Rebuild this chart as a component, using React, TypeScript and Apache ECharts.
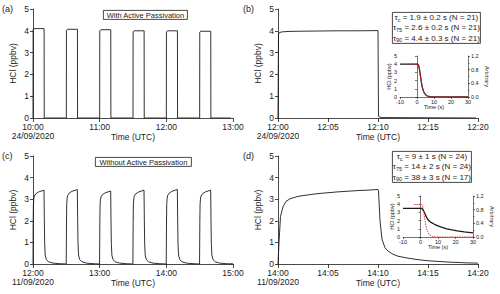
import React, { useEffect, useRef } from "react";
import * as echarts from "echarts";

// ---------- data ----------
// Panel (a): with active passivation, minutes after 10:00 (24/09/2020)
const aPulseStarts = [0, 30, 60, 90, 120, 150];
const aPulseTops = [4.1, 4.07, 4.05, 4.0, 4.0, 3.98];
const aPulseLength = 10;
const aEnd = 178;

// Panel (b): single step, minutes after 12:00 (24/09/2020)
const bTime = [0, 0.05, 0.15, 0.4, 1, 2, 4, 6, 8, 10, 10.05, 10.3, 19.8];
const bValue = [0, 3.85, 3.92, 3.95, 3.97, 3.98, 3.99, 4.0, 4.0, 4.01, 0.08, 0.02, 0.0];

// Panel (c): without active passivation, minutes after 12:00 (11/09/2020)
const cPulseStarts = [0, 30, 60, 90, 120, 150];
const cPulseTops = [3.42, 3.45, 3.38, 3.42, 3.45, 3.42];
// typical pulse profile: [minutes after start, fraction of top]
const cPulseProfile: [number, number][] = [
  [0, 0], [0.15, 0.55], [0.35, 0.8], [0.7, 0.88], [1.2, 0.92], [2.5, 0.95],
  [5, 0.975], [9.9, 1.0], [10.2, 0.6], [10.5, 0.28], [11, 0.12], [12, 0.06],
  [14, 0.03], [18, 0.012], [24, 0.004], [29.9, 0.0],
];

// Panel (d): single step, minutes after 14:00 (11/09/2020)
const dTime = [0, 0.1, 0.25, 0.5, 0.8, 1.2, 2, 3, 4, 5, 6, 7, 8, 9, 10, 10.05, 10.2, 10.4, 10.7, 11, 11.5, 12, 13, 14, 15, 16, 17, 18, 19, 20];
const dValue = [0, 1.0, 2.2, 2.65, 2.9, 3.02, 3.13, 3.2, 3.26, 3.3, 3.34, 3.37, 3.4, 3.42, 3.45, 3.38, 2.0, 1.15, 0.75, 0.6, 0.45, 0.36, 0.27, 0.2, 0.15, 0.12, 0.09, 0.07, 0.05, 0.04];

// Inset (b): seconds, HCl (ppbv) and fit (arbitrary)
const ibTime = [-10, 0.5, 1, 1.5, 2, 2.5, 3, 3.5, 4, 5, 6, 7, 8, 10, 30];
const ibHcl = [4.0, 4.0, 3.8, 3.3, 2.6, 1.9, 1.3, 0.9, 0.6, 0.28, 0.13, 0.06, 0.03, 0.01, 0.0];
const ibFitTime = [-4, 0.5, 1, 1.5, 2, 2.5, 3, 3.5, 4, 5, 6, 7, 8, 10, 30];
const ibFit = [0.96, 0.96, 0.91, 0.79, 0.62, 0.46, 0.31, 0.22, 0.14, 0.07, 0.03, 0.015, 0.007, 0.002, 0.0];

// Inset (d)
const idTime = [-10, 0.5, 1, 2, 3, 4, 5, 6, 8, 10, 12, 15, 18, 21, 25, 30];
const idHcl = [3.5, 3.5, 3.45, 3.1, 2.6, 2.2, 1.95, 1.78, 1.55, 1.35, 1.2, 1.0, 0.87, 0.76, 0.62, 0.5];
const idFitTime = [-3.7, 1, 1.5, 2, 2.5, 3, 3.5, 4, 5, 6, 7, 9, 30];
const idFit = [0.95, 0.95, 0.85, 0.68, 0.5, 0.35, 0.24, 0.16, 0.07, 0.03, 0.01, 0.0, 0.0];

// Text
const tauB = [
  ["c", "1.9 ± 0.2 s (N = 21)"],
  ["75", "2.6 ± 0.2 s (N = 21)"],
  ["90", "4.4 ± 0.3 s (N = 21)"],
];
const tauD = [
  ["c", "9 ± 1 s (N = 24)"],
  ["75", "14 ± 2 s (N = 24)"],
  ["90", "38 ± 3 s (N = 17)"],
];

const FONT = "'Liberation Sans', Arial, sans-serif";
const INK = "#1a1a1a";

function buildA(): [number, number][] {
  const out: [number, number][] = [];
  aPulseStarts.forEach((s, i) => {
    const t = aPulseTops[i];
    out.push([s, 0], [s + 0.1, t - 0.05], [s + 1, t], [s + aPulseLength, t], [s + aPulseLength + 0.1, 0]);
  });
  out.push([aEnd, 0]);
  return out;
}

function buildC(): [number, number][] {
  const out: [number, number][] = [];
  cPulseStarts.forEach((s, i) => {
    const top = cPulseTops[i];
    cPulseProfile.forEach(([dt, f]) => out.push([s + dt, +(f * top).toFixed(3)]));
  });
  out.push([178, 0]);
  return out;
}

const zip = (a: number[], b: number[]) => a.map((x, i) => [x, b[i]]);

function clock(startH: number, date: string) {
  return (v: number) => {
    const tot = startH * 60 + v;
    const h = Math.floor(tot / 60);
    const m = Math.round(tot % 60);
    const s = `${h}:${m < 10 ? "0" + m : m}`;
    return v === 0 ? `${s}\n${date}` : s;
  };
}

function mainX(grid: number, max: number, interval: number, startH: number, date: string) {
  return {
    type: "value", gridIndex: grid, min: 0, max, interval,
    name: "Time (UTC)", nameLocation: "middle", nameGap: 14, nameMoveOverlap: false,
    nameTextStyle: { fontSize: 8.5, color: INK, fontFamily: FONT },
    axisLine: { show: true, onZero: false, lineStyle: { color: INK, width: 0.8 } },
    axisTick: { show: true, inside: false, length: 4, lineStyle: { color: INK, width: 0.8 } },
    axisLabel: { formatter: clock(startH, date), fontSize: 8.5, lineHeight: 8.5, margin: 5, color: INK, fontFamily: FONT, hideOverlap: false },
    splitLine: { show: false },
  };
}

function mainY(grid: number) {
  return {
    type: "value", gridIndex: grid, min: 0, max: 5, interval: 1,
    name: "HCl (ppbv)", nameLocation: "middle", nameGap: 16, nameMoveOverlap: false,
    nameTextStyle: { fontSize: 8.5, color: INK, fontFamily: FONT },
    axisLine: { show: true, lineStyle: { color: INK, width: 0.8 } },
    axisTick: { show: true, inside: false, length: 3, lineStyle: { color: INK, width: 0.8 } },
    axisLabel: { fontSize: 8.5, margin: 4, color: INK, fontFamily: FONT },
    splitLine: { show: false },
  };
}

const smallFont = 5.5;
function insetX(grid: number) {
  return {
    type: "value", gridIndex: grid, min: -10, max: 30, interval: 10,
    name: "Time (s)", nameLocation: "middle", nameGap: 7, nameMoveOverlap: false,
    nameTextStyle: { fontSize: smallFont, color: INK, fontFamily: FONT },
    axisLine: { show: true, onZero: false, lineStyle: { color: INK, width: 0.6 } },
    axisTick: { show: true, inside: false, length: 2, lineStyle: { color: INK, width: 0.6 } },
    axisLabel: { fontSize: smallFont, margin: 2, color: INK, fontFamily: FONT },
    splitLine: { show: false },
  };
}
function insetYLeft(grid: number) {
  return {
    type: "value", gridIndex: grid, min: 0, max: 5, interval: 1, position: "left",
    name: "HCl (ppbv)", nameLocation: "middle", nameGap: 8, nameMoveOverlap: false,
    nameTextStyle: { fontSize: smallFont, color: INK, fontFamily: FONT },
    axisLine: { show: true, lineStyle: { color: INK, width: 0.6 } },
    axisTick: { show: true, inside: false, length: 2, lineStyle: { color: INK, width: 0.6 } },
    axisLabel: { fontSize: smallFont, margin: 3, color: INK, fontFamily: FONT },
    splitLine: { show: false },
  };
}
function insetYRight(grid: number) {
  return {
    type: "value", gridIndex: grid, min: 0, max: 1.2, interval: 0.4, position: "right",
    name: "Arbitrary", nameLocation: "middle", nameGap: 16, nameRotate: -90, nameMoveOverlap: false,
    nameTextStyle: { fontSize: smallFont, color: INK, fontFamily: FONT },
    axisLine: { show: true, lineStyle: { color: INK, width: 0.6 } },
    axisTick: { show: true, inside: false, length: 2, lineStyle: { color: INK, width: 0.6 } },
    minorTick: { show: true, splitNumber: 2, length: 1.5, lineStyle: { color: INK, width: 0.5 } },
    axisLabel: { fontSize: smallFont, margin: 3, color: INK, fontFamily: FONT, formatter: (v: number) => v.toFixed(1) },
    splitLine: { show: false },
  };
}

function tauText(rows: string[][]) {
  return rows.map(([sub, rest]) => `{t|τ}{s|${sub}}{t| = ${rest}}`).join("\n");
}

function tauBox(x: number, y: number, w: number, h: number, rows: string[][]) {
  return {
    type: "group", left: x, top: y,
    children: [
      { type: "rect", shape: { x: 0, y: 0, width: w, height: h }, style: { fill: "#fff", stroke: INK, lineWidth: 0.8 } },
      {
        type: "text", x: w / 2, y: h / 2,
        style: {
          text: tauText(rows), align: "center", verticalAlign: "middle",
          textAlign: "center", textVerticalAlign: "middle",
          fill: INK, fontFamily: FONT, fontSize: 8,
          rich: {
            t: { fontSize: 8, lineHeight: 10.2, fontFamily: FONT, fill: INK, verticalAlign: "middle" },
            s: { fontSize: 5.5, lineHeight: 10.2, fontFamily: FONT, fill: INK, verticalAlign: "bottom", padding: [4, 0, 0, 0] },
          },
        },
      },
    ],
  };
}

function labelBox(x: number, y: number, w: number, h: number, text: string) {
  return {
    type: "group", left: x, top: y,
    children: [
      { type: "rect", shape: { x: 0, y: 0, width: w, height: h }, style: { fill: "#fff", stroke: INK, lineWidth: 0.8 } },
      {
        type: "text", x: w / 2, y: h / 2 + 0.5,
        style: { text, align: "center", verticalAlign: "middle", textAlign: "center", textVerticalAlign: "middle", fill: INK, fontFamily: FONT, fontSize: 7.5 },
      },
    ],
  };
}

function panelLabel(x: number, y: number, text: string) {
  return { type: "text", x, y, style: { text, fill: INK, fontFamily: FONT, fontSize: 9, verticalAlign: "middle", textVerticalAlign: "middle" } };
}

export default function App() {
  const ref = useRef<HTMLDivElement>(null);
  useEffect(() => {
    if (!ref.current) return;
    const chart = echarts.init(ref.current, undefined, { renderer: "svg" });
    const line = (x: number, y: number, data: any, color = INK, width = 0.9, type: any = "solid") => ({
      type: "line", xAxisIndex: x, yAxisIndex: y, data, showSymbol: false, symbol: "none",
      lineStyle: { color, width, type }, z: 3, silent: true,
    });
    chart.setOption({
      animation: false,
      textStyle: { fontFamily: FONT },
      grid: [
        { left: 33, top: 9, width: 200, height: 109 },
        { left: 278, top: 9, width: 200, height: 109 },
        { left: 33, top: 156, width: 200, height: 108 },
        { left: 278, top: 156, width: 200, height: 108 },
        { left: 400, top: 56, width: 68, height: 41, z: 5 },
        { left: 403, top: 196, width: 70, height: 41, z: 5 },
      ],
      xAxis: [
        mainX(0, 180, 60, 10, "24/09/2020"),
        mainX(1, 20, 5, 12, "24/09/2020"),
        mainX(2, 180, 60, 12, "11/09/2020"),
        mainX(3, 20, 5, 14, "11/09/2020"),
        insetX(4),
        insetX(5),
      ],
      yAxis: [
        mainY(0), mainY(1), mainY(2), mainY(3),
        insetYLeft(4), insetYRight(4),
        insetYLeft(5), insetYRight(5),
      ],
      series: [
        line(0, 0, buildA()),
        line(1, 1, zip(bTime, bValue)),
        line(2, 2, buildC()),
        line(3, 3, zip(dTime, dValue)),
        line(4, 4, zip(ibTime, ibHcl), INK, 1.3),
        line(4, 5, zip(ibFitTime, ibFit), "#e8202a", 1, [1.5, 1]),
        line(5, 6, zip(idTime, idHcl), INK, 1.3),
        line(5, 7, zip(idFitTime, idFit), "#f0303a", 1, [1.5, 1]),
      ],
      graphic: [
        panelLabel(2, 9, "(a)"),
        panelLabel(243, 9, "(b)"),
        panelLabel(2, 156, "(c)"),
        panelLabel(243, 156, "(d)"),
        labelBox(103, 10, 84, 9, "With Active Passivation"),
        labelBox(95, 157, 96, 9, "Without Active Passivation"),
        tauBox(392, 12, 88, 31, tauB),
        tauBox(392, 151, 79, 31, tauD),
      ],
    });
    return () => chart.dispose();
  }, []);
  return <div ref={ref} style={{ position: "absolute", left: 0, top: 0, width: 500, height: 294, background: "#fff" }} />;
}
